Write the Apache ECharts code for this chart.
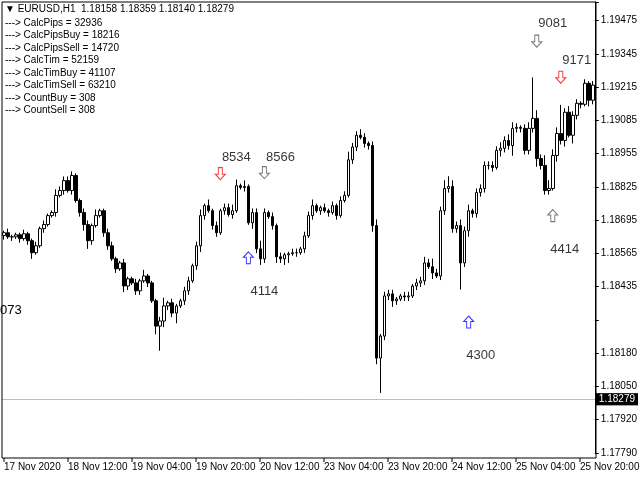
<!DOCTYPE html><html><head><meta charset="utf-8">
<script src="https://cdn.jsdelivr.net/npm/echarts@6/dist/echarts.min.js"></script>
<style>html,body{margin:0;background:#fff}#c{width:640px;height:480px}</style></head><body><div id="c"></div>
<script>
const closes=[1.18651,1.18635,1.18635,1.18643,1.18628,1.18647,1.18620,1.18573,1.18600,1.18667,1.18683,1.18718,1.18730,1.18797,1.18816,1.18855,
1.18816,1.18875,1.18777,1.18730,1.18683,1.18620,1.18679,1.18718,1.18737,1.18651,1.18600,1.18549,1.18510,1.18533,1.18443,1.18471,
1.18455,1.18424,1.18463,1.18482,1.18455,1.18385,1.18286,1.18306,1.18365,1.18377,1.18337,1.18365,1.18385,1.18424,1.18463,1.18522,
1.18600,1.18718,1.18757,1.18737,1.18679,1.18651,1.18737,1.18749,1.18722,1.18737,1.18835,1.18828,1.18832,1.18690,1.18730,1.18588,
1.18549,1.18730,1.18714,1.18679,1.18557,1.18549,1.18565,1.18569,1.18573,1.18573,1.18588,1.18639,1.18718,1.18757,1.18737,1.18749,
1.18737,1.18730,1.18757,1.18718,1.18777,1.18797,1.18936,1.18986,1.19032,1.19024,1.19000,1.18992,1.18679,1.18161,1.18247,1.18404,
1.18412,1.18385,1.18392,1.18404,1.18400,1.18404,1.18443,1.18455,1.18463,1.18533,1.18518,1.18494,1.18482,1.18737,1.18824,1.18832,
1.18667,1.18679,1.18533,1.18659,1.18737,1.18726,1.18808,1.18824,1.18914,1.18914,1.18906,1.18973,1.18981,1.19012,1.18992,1.19059,
1.19063,1.19059,1.18973,1.19059,1.19098,1.18941,1.18914,1.18816,1.18824,1.18953,1.19039,1.19012,1.19122,1.19032,1.19110,1.19157,
1.19153,1.19235,1.19169,1.19228];
const firstOpen=1.18640;
const upWick=[1,2,1,1,1,2,1,1,2,1,2,1,1,3,2,2,
2,2,1,1,2,2,1,3,1,1,2,2,1,1,2,1,
1,2,1,3,1,1,1,2,4,1,2,1,1,2,2,1,
2,3,1,3,1,2,1,2,2,3,3,1,3,1,2,2,
4,2,1,2,1,2,1,1,2,2,1,2,2,3,1,1,
2,1,2,1,2,2,4,2,2,3,2,1,2,3,1,2,
2,2,1,1,2,2,1,2,2,3,2,4,2,2,4,5,
3,2,3,2,3,1,2,2,2,2,2,2,3,2,3,3,
2,1,2,3,20,4,2,5,4,3,3,14,2,3,2,2,
1,2,1,2];
const dnWick=[2,1,2,1,2,1,2,3,1,1,2,1,1,2,1,2,
1,2,1,2,3,4,2,1,1,2,2,1,2,1,3,2,
1,2,2,1,2,1,4,12,3,2,2,5,1,2,2,1,
2,3,2,1,2,2,1,2,1,2,1,1,2,1,3,2,
3,2,1,2,3,2,3,4,1,2,1,2,1,2,1,2,
1,2,1,2,1,1,1,2,2,1,2,2,3,3,17,2,
2,3,2,1,2,2,1,2,2,2,1,3,1,2,2,2,
2,2,13,2,3,2,2,2,2,2,2,1,3,2,2,5,
2,2,2,2,2,4,2,2,2,1,3,2,3,1,4,2,
2,1,3,2];
const tickLabels=["17 Nov 2020","18 Nov 12:00","19 Nov 04:00","19 Nov 20:00","20 Nov 12:00","23 Nov 04:00","23 Nov 20:00","24 Nov 12:00","25 Nov 04:00","25 Nov 20:00"];
const priceLabels=["1.17790","1.17920","1.18050","1.18180","","1.18435","1.18565","1.18695","1.18825","1.18955","1.19085","1.19215","1.19345","1.19475"];
const header="EURUSD,H1  1.18158 1.18359 1.18140 1.18279";
const infoLines=["---> CalcPips = 32936","---> CalcPipsBuy = 18216","---> CalcPipsSell = 14720","---> CalcTim = 52159","---> CalcTimBuy = 41107","---> CalcTimSell = 63210","---> CountBuy = 308","---> CountSell = 308"];
const arrowsDown=[[54,1.18882,'#ff0000'],[65,1.18886,'#555'],[133,1.19400,'#555'],[139,1.19259,'#ff0000']];
const arrowsUp=[[61,1.18553,'#0000ff'],[137,1.18718,'#555'],[116,1.18302,'#0000ff']];
const notes=[[58,1.18945,'8534'],[69,1.18945,'8566'],[65,1.18420,'4114'],[137,1.19471,'9081'],[143,1.19326,'9171'],[140,1.18585,'4414'],[119,1.18173,'4300']];
const askLine=1.18300, bidLine=1.18279;

const pip=0.0001;
const cats=closes.map((_,i)=>i);
const ohlc=closes.map((c,i)=>{const o=i?closes[i-1]:firstOpen;return [o,c,Math.min(o,c)-dnWick[i]*pip*0.8,Math.max(o,c)+upWick[i]*pip*0.8];});
const dPath='path://M3,0L7,0L7,6L10,6L5,11L0,6L3,6Z', uPath='path://M5,0L10,5L7,5L7,11L3,11L3,5L0,5Z';
const ch=echarts.init(document.getElementById('c'));
const font='Liberation Sans';
const yMin=1.1779, yStep=0.0013;
ch.setOption({animation:false,
grid:{left:2,right:44,top:2,bottom:27},
xAxis:{type:'category',data:cats,boundaryGap:true,axisLine:{show:false},axisTick:{show:false},
 axisLabel:{show:false},splitLine:{show:false}},
yAxis:{type:'value',position:'right',min:yMin,max:1.19553,interval:yStep,
 axisLine:{show:true,lineStyle:{color:'#000'}},axisTick:{show:true,length:4,lineStyle:{color:'#000'}},splitLine:{show:false},
 axisLabel:{color:'#000',fontFamily:font,fontSize:10,margin:6,formatter:v=>{const k=Math.round((v-yMin)/yStep);return priceLabels[k]||'';}}},
series:[
{type:'candlestick',data:ohlc,barWidth:3,itemStyle:{color:'#fff',color0:'#000',borderColor:'#000',borderColor0:'#000',borderWidth:1}},
{type:'scatter',data:arrowsDown.map(a=>({value:[a[0],a[1]],itemStyle:{borderColor:a[2]}})),symbol:dPath,symbolSize:[10,12],itemStyle:{color:'#fff',borderWidth:1},z:5},
{type:'scatter',data:arrowsUp.map(a=>({value:[a[0],a[1]],itemStyle:{borderColor:a[2]}})),symbol:uPath,symbolSize:[10,12],itemStyle:{color:'#fff',borderWidth:1},z:5},
{type:'scatter',data:notes.map(n=>({value:[n[0],n[1]],name:n[2]})),symbolSize:0,
 label:{show:true,position:'inside',formatter:p=>p.name,color:'#000',fontFamily:font,fontSize:13},
 markLine:{symbol:'none',silent:true,data:[
  {yAxis:askLine,lineStyle:{color:'#ff4500',type:'solid',width:1},label:{position:'end',distance:1,formatter:askLine.toFixed(5),color:'#fff',backgroundColor:'#ff4500',padding:[1,3],fontFamily:font,fontSize:10}},
  {yAxis:bidLine,lineStyle:{color:'#c0c0c0',type:'solid',width:1},label:{position:'end',distance:1,formatter:bidLine.toFixed(5),color:'#fff',backgroundColor:'#000',padding:[1,3],fontFamily:font,fontSize:10}}]}}
],
graphic:[
 {type:'rect',shape:{x:2,y:2,width:594,height:456},style:{fill:'none',stroke:'#000',lineWidth:1},z:10,silent:true},
 {type:'text',x:0,y:304,style:{text:'073',font:'13px Liberation Sans',fill:'#000'}},
 {type:'text',x:5,y:4,style:{text:'▼ '+header,font:'10px Liberation Sans',fill:'#000'}},
 ...infoLines.map((t,i)=>({type:'text',x:5,y:18+i*12.5,style:{text:t,font:'10px Liberation Sans',fill:'#000'}})),
 ...tickLabels.map((t,i)=>({type:'group',children:[
   {type:'line',shape:{x1:4+64*i,y1:458,x2:4+64*i,y2:462},style:{stroke:'#000'}},
   {type:'text',x:4+64*i,y:462,style:{text:t,font:'10px Liberation Sans',fill:'#000'}}]}))
]});
</script></body></html>
